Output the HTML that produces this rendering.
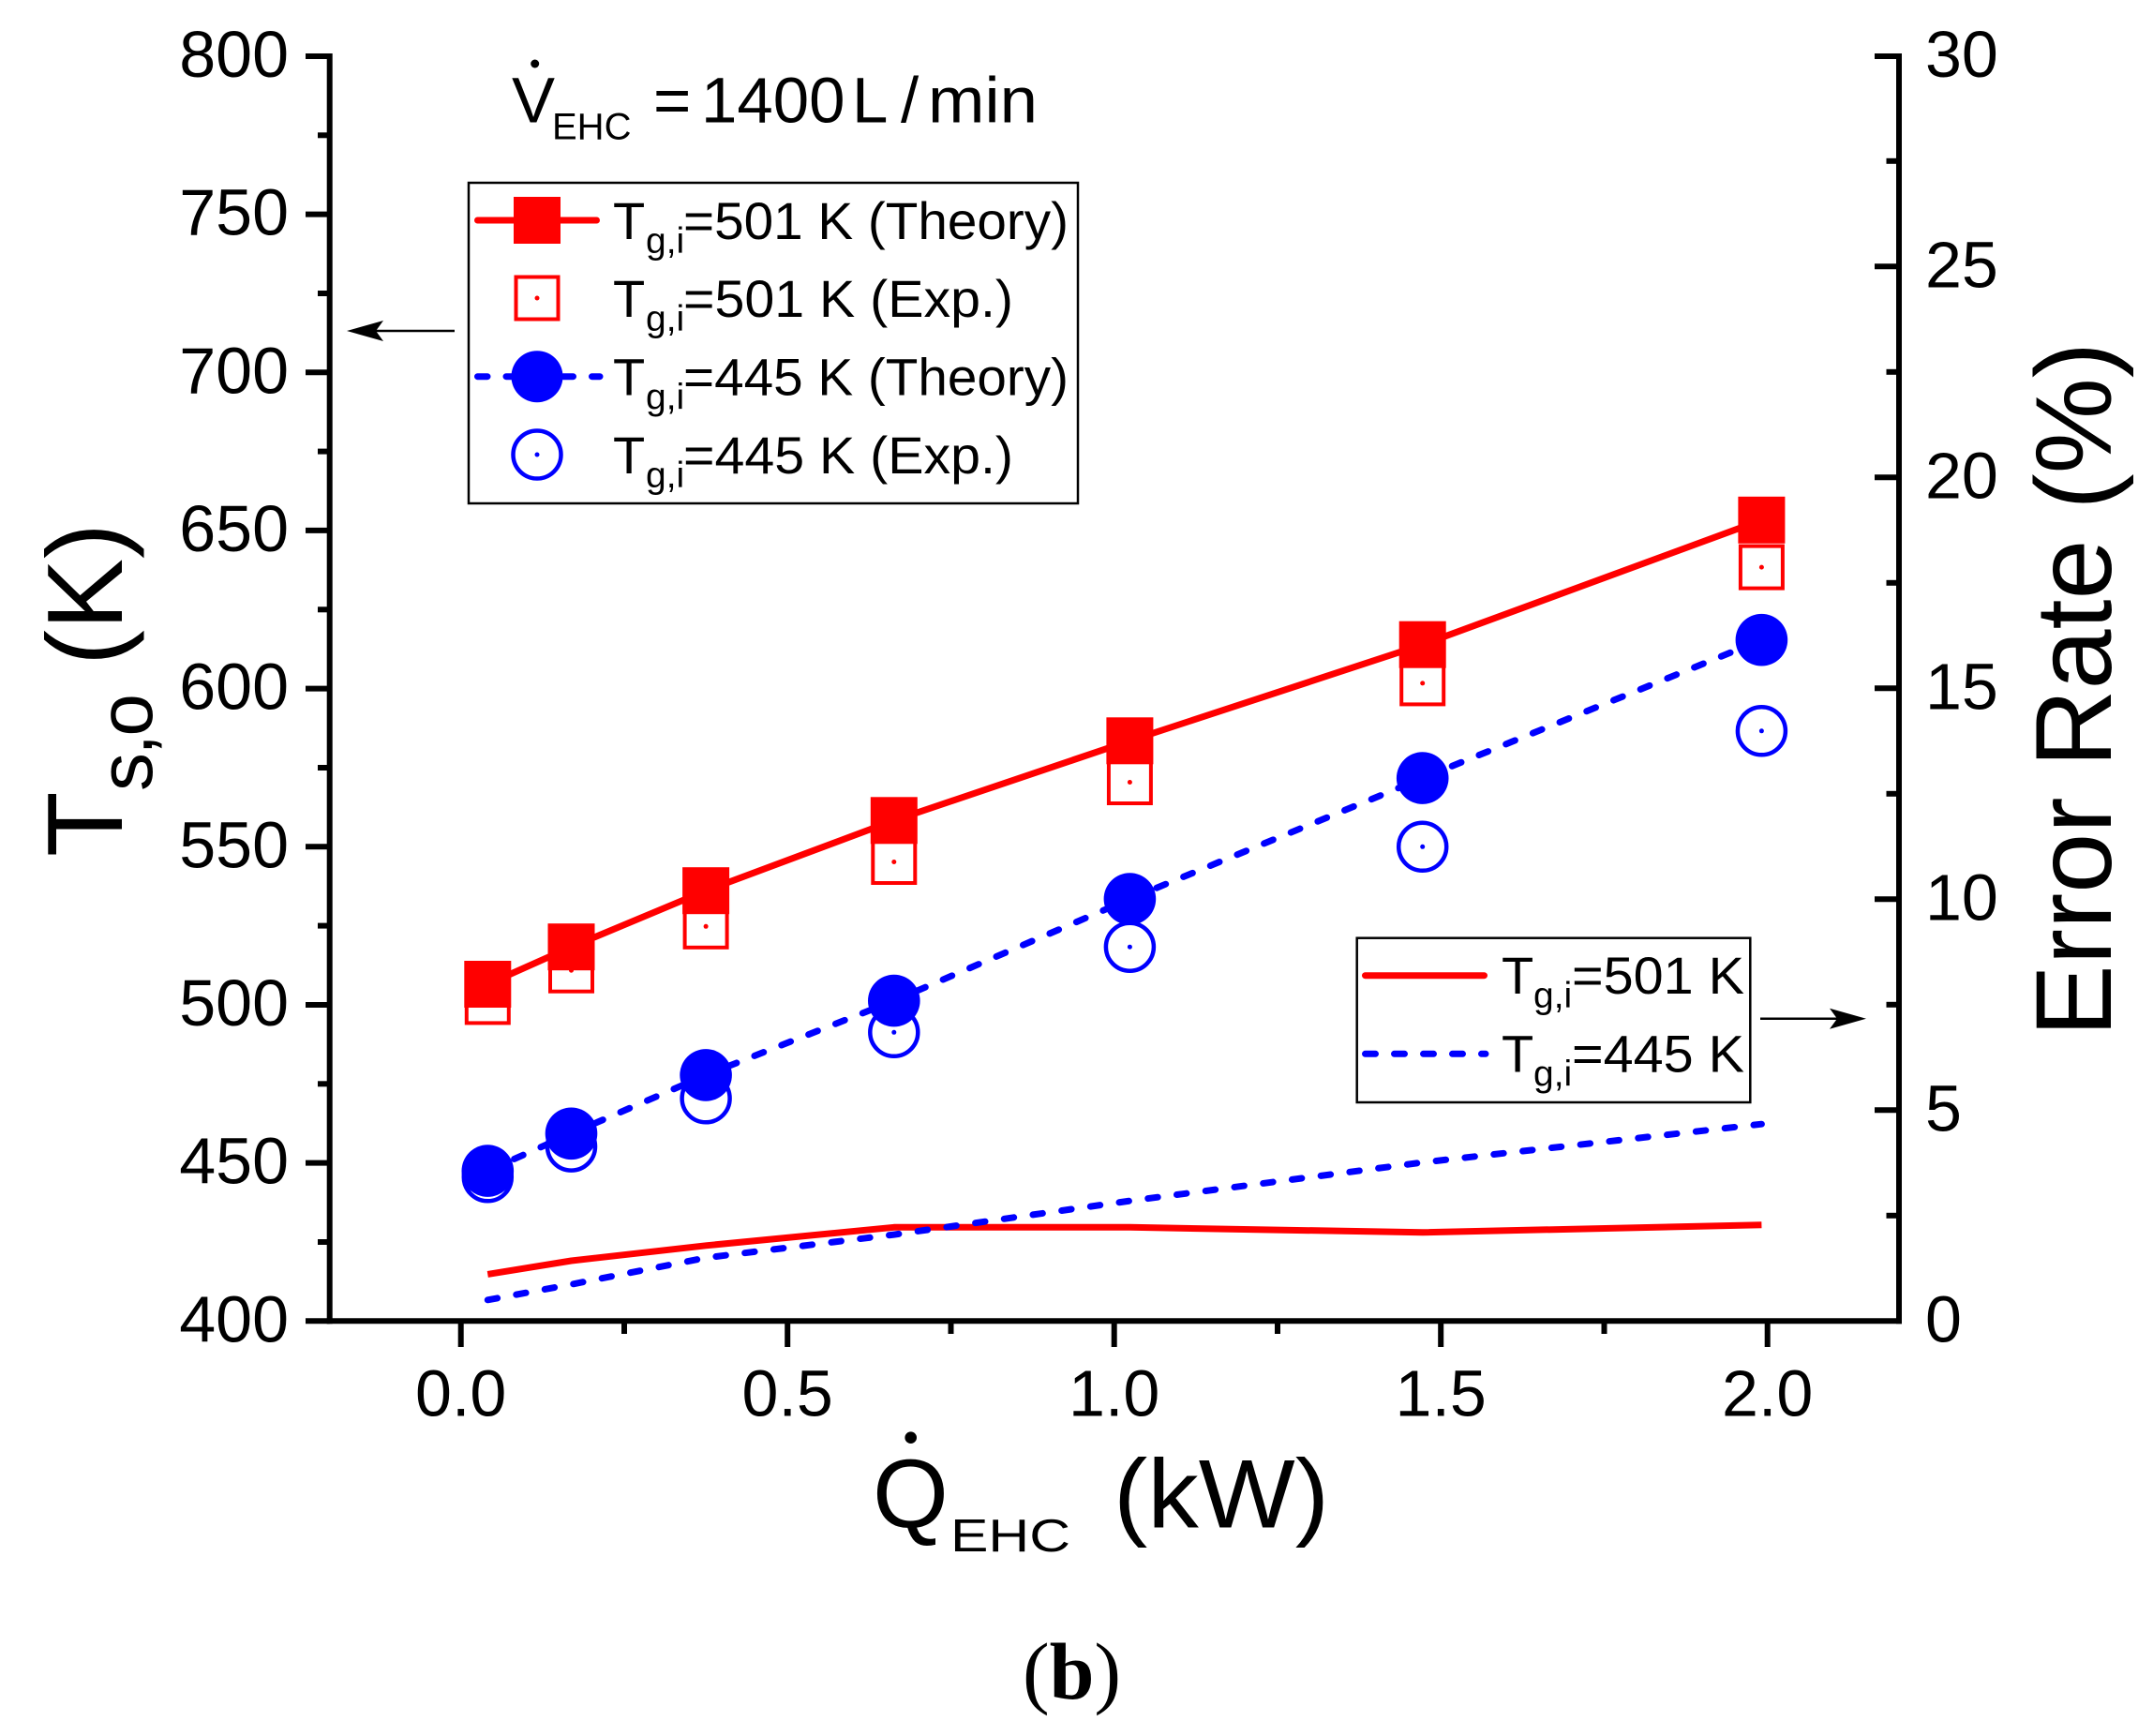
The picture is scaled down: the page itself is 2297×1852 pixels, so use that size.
<!DOCTYPE html>
<html>
<head>
<meta charset="utf-8">
<style>
html,body{margin:0;padding:0;background:#fff;}
svg{display:block;}
text{font-family:"Liberation Sans",Arial,sans-serif;fill:#000;}
</style>
</head>
<body>
<svg width="2297" height="1852" viewBox="0 0 2297 1852" xmlns="http://www.w3.org/2000/svg">
<rect x="0" y="0" width="2297" height="1852" fill="#fff"/>

<!-- Axes -->
<g stroke="#000" stroke-width="6" fill="none" stroke-linecap="butt">
  <line x1="351.7" y1="57" x2="351.7" y2="1412.3"/>
  <line x1="2026" y1="57" x2="2026" y2="1412.3"/>
  <line x1="348.7" y1="1409.3" x2="2029" y2="1409.3"/>
  <!-- left major ticks -->
  <line x1="326" y1="1409.3" x2="351.7" y2="1409.3"/>
  <line x1="326" y1="1240.6" x2="351.7" y2="1240.6"/>
  <line x1="326" y1="1072.0" x2="351.7" y2="1072.0"/>
  <line x1="326" y1="903.3" x2="351.7" y2="903.3"/>
  <line x1="326" y1="734.6" x2="351.7" y2="734.6"/>
  <line x1="326" y1="565.9" x2="351.7" y2="565.9"/>
  <line x1="326" y1="397.3" x2="351.7" y2="397.3"/>
  <line x1="326" y1="228.6" x2="351.7" y2="228.6"/>
  <line x1="326" y1="60.0" x2="351.7" y2="60.0"/>
  <!-- left minor ticks -->
  <line x1="339" y1="1325.0" x2="351.7" y2="1325.0"/>
  <line x1="339" y1="1156.3" x2="351.7" y2="1156.3"/>
  <line x1="339" y1="987.6" x2="351.7" y2="987.6"/>
  <line x1="339" y1="819.0" x2="351.7" y2="819.0"/>
  <line x1="339" y1="650.3" x2="351.7" y2="650.3"/>
  <line x1="339" y1="481.6" x2="351.7" y2="481.6"/>
  <line x1="339" y1="313.0" x2="351.7" y2="313.0"/>
  <line x1="339" y1="144.3" x2="351.7" y2="144.3"/>
  <!-- right major ticks (inward) -->
  <line x1="2000" y1="1184.3" x2="2026" y2="1184.3"/>
  <line x1="2000" y1="959.3" x2="2026" y2="959.3"/>
  <line x1="2000" y1="734.3" x2="2026" y2="734.3"/>
  <line x1="2000" y1="509.3" x2="2026" y2="509.3"/>
  <line x1="2000" y1="284.3" x2="2026" y2="284.3"/>
  <line x1="2000" y1="60" x2="2026" y2="60"/>
  <!-- right minor ticks -->
  <line x1="2012.5" y1="1296.8" x2="2026" y2="1296.8"/>
  <line x1="2012.5" y1="1071.8" x2="2026" y2="1071.8"/>
  <line x1="2012.5" y1="846.8" x2="2026" y2="846.8"/>
  <line x1="2012.5" y1="621.8" x2="2026" y2="621.8"/>
  <line x1="2012.5" y1="396.8" x2="2026" y2="396.8"/>
  <line x1="2012.5" y1="171.8" x2="2026" y2="171.8"/>
  <!-- bottom major ticks -->
  <line x1="491.7" y1="1409.3" x2="491.7" y2="1437"/>
  <line x1="840.2" y1="1409.3" x2="840.2" y2="1437"/>
  <line x1="1188.7" y1="1409.3" x2="1188.7" y2="1437"/>
  <line x1="1537.2" y1="1409.3" x2="1537.2" y2="1437"/>
  <line x1="1885.7" y1="1409.3" x2="1885.7" y2="1437"/>
  <!-- bottom minor ticks -->
  <line x1="666.0" y1="1409.3" x2="666.0" y2="1423"/>
  <line x1="1014.5" y1="1409.3" x2="1014.5" y2="1423"/>
  <line x1="1363.0" y1="1409.3" x2="1363.0" y2="1423"/>
  <line x1="1711.5" y1="1409.3" x2="1711.5" y2="1423"/>
</g>

<!-- Left tick labels -->
<g font-size="70" text-anchor="end">
  <text x="308" y="1431.3">400</text>
  <text x="308" y="1262.6">450</text>
  <text x="308" y="1094.0">500</text>
  <text x="308" y="925.3">550</text>
  <text x="308" y="756.6">600</text>
  <text x="308" y="587.9">650</text>
  <text x="308" y="419.3">700</text>
  <text x="308" y="250.6">750</text>
  <text x="308" y="82.0">800</text>
</g>
<!-- Right tick labels -->
<g font-size="70" text-anchor="start">
  <text x="2054" y="1431.3">0</text>
  <text x="2054" y="1206.3">5</text>
  <text x="2054" y="981.3">10</text>
  <text x="2054" y="756.3">15</text>
  <text x="2054" y="531.3">20</text>
  <text x="2054" y="306.3">25</text>
  <text x="2054" y="82">30</text>
</g>
<!-- Bottom tick labels -->
<g font-size="70" text-anchor="middle">
  <text x="491.7" y="1510.5">0.0</text>
  <text x="840.2" y="1510.5">0.5</text>
  <text x="1188.7" y="1510.5">1.0</text>
  <text x="1537.2" y="1510.5">1.5</text>
  <text x="1885.7" y="1510.5">2.0</text>
</g>

<!-- Left axis title -->
<g transform="translate(130,914) rotate(-90)">
  <text x="0" y="0" font-size="114">T</text>
  <text x="70" y="32" font-size="82" textLength="104" lengthAdjust="spacing">s,o</text>
  <text x="204" y="0" font-size="114">(K)</text>
</g>
<!-- Right axis title -->
<g transform="translate(2252,1106) rotate(-90)">
  <text x="0" y="0" font-size="115">Error Rate (%)</text>
</g>

<!-- X axis title -->
<text x="931" y="1629.5" font-size="104">Q</text>
<circle cx="971.7" cy="1533.7" r="6.3" fill="#000"/>
<text x="1014" y="1655" font-size="49" textLength="128" lengthAdjust="spacingAndGlyphs">EHC</text>
<text x="1188" y="1629.5" font-size="104" textLength="230" lengthAdjust="spacingAndGlyphs">(kW)</text>

<!-- (b) -->
<text x="1143.5" y="1812" font-size="86" text-anchor="middle" style='font-family:"Liberation Serif","Times New Roman",serif;'>(<tspan font-weight="bold">b</tspan>)</text>

<!-- Annotation -->
<text x="546" y="130.7" font-size="69">V</text>
<circle cx="570.7" cy="68" r="4.5" fill="#000"/>
<text x="589" y="148.3" font-size="40">EHC</text>
<text x="697" y="130.7" font-size="69">=</text>
<text x="748" y="130.7" font-size="69">1400</text>
<text x="909" y="130.7" font-size="69">L</text>
<text x="961" y="130.7" font-size="69">/</text>
<text x="990" y="130.7" font-size="69" textLength="117" lengthAdjust="spacingAndGlyphs">min</text>

<!-- Data lines -->
<polyline fill="none" stroke="#ff0000" stroke-width="7" stroke-linejoin="round"
  points="520.3,1050.0 609.5,1010.2 753.1,950.2 953.8,875.3 1205.4,790.3 1517.7,687.7 1879.4,554.8"/>
<polyline fill="none" stroke="#0000ff" stroke-width="7" stroke-linecap="round" stroke-dasharray="10.5 20.5"
  points="520.3,1249.1 609.5,1209.3 753.1,1146.9 953.8,1067.6 1205.4,959.0 1517.7,830.1 1879.4,682.7"/>
<polyline fill="none" stroke="#ff0000" stroke-width="7" stroke-linejoin="round"
  points="520.3,1359.4 609.5,1345.0 753.1,1328.8 953.8,1309.3 1205.4,1309.3 1517.7,1314.8 1879.4,1306.7"/>
<polyline fill="none" stroke="#0000ff" stroke-width="7" stroke-linecap="round" stroke-dasharray="10.5 20.5"
  points="520.3,1386.8 609.5,1370.2 753.1,1341.8 953.8,1317.1 1205.4,1281.1 1517.7,1240.1 1879.4,1199.2"/>

<!-- Exp open squares -->
<g fill="#fff" stroke="#ff0000" stroke-width="4">
  <rect x="497.8" y="1046.4" width="45" height="45"/>
  <rect x="587.0" y="1012.7" width="45" height="45"/>
  <rect x="730.6" y="965.8" width="45" height="45"/>
  <rect x="931.3" y="897.0" width="45" height="45"/>
  <rect x="1182.9" y="812.0" width="45" height="45"/>
  <rect x="1495.2" y="706.4" width="45" height="45"/>
  <rect x="1856.9" y="582.6" width="45" height="45"/>
</g>
<g fill="#ff0000">
  <circle cx="520.3" cy="1068.9" r="2.5"/>
  <circle cx="609.5" cy="1035.2" r="2.5"/>
  <circle cx="753.1" cy="988.3" r="2.5"/>
  <circle cx="953.8" cy="919.5" r="2.5"/>
  <circle cx="1205.4" cy="834.5" r="2.5"/>
  <circle cx="1517.7" cy="728.9" r="2.5"/>
  <circle cx="1879.4" cy="605.1" r="2.5"/>
</g>
<!-- Exp open circles -->
<g fill="#fff" stroke="#0000ff" stroke-width="4.5">
  <circle cx="520.3" cy="1255.8" r="25.5"/>
  <circle cx="609.5" cy="1223.1" r="25.5"/>
  <circle cx="753.1" cy="1171.8" r="25.5"/>
  <circle cx="953.8" cy="1101.3" r="25.5"/>
  <circle cx="1205.4" cy="1010.2" r="25.5"/>
  <circle cx="1517.7" cy="903.3" r="25.5"/>
  <circle cx="1879.4" cy="779.8" r="25.5"/>
</g>
<g fill="#0000ff">
  <circle cx="520.3" cy="1255.8" r="2.5"/>
  <circle cx="609.5" cy="1223.1" r="2.5"/>
  <circle cx="753.1" cy="1171.8" r="2.5"/>
  <circle cx="953.8" cy="1101.3" r="2.5"/>
  <circle cx="1205.4" cy="1010.2" r="2.5"/>
  <circle cx="1517.7" cy="903.3" r="2.5"/>
  <circle cx="1879.4" cy="779.8" r="2.5"/>
</g>
<!-- Theory filled squares -->
<g fill="#ff0000">
  <rect x="495.3" y="1025.0" width="50" height="50"/>
  <rect x="584.5" y="985.2" width="50" height="50"/>
  <rect x="728.1" y="925.2" width="50" height="50"/>
  <rect x="928.8" y="850.3" width="50" height="50"/>
  <rect x="1180.4" y="765.3" width="50" height="50"/>
  <rect x="1492.7" y="662.7" width="50" height="50"/>
  <rect x="1854.4" y="529.8" width="50" height="50"/>
</g>
<!-- Theory filled circles -->
<g fill="#0000ff">
  <circle cx="520.3" cy="1249.1" r="27.8"/>
  <circle cx="609.5" cy="1209.3" r="27.8"/>
  <circle cx="753.1" cy="1146.9" r="27.8"/>
  <circle cx="953.8" cy="1067.6" r="27.8"/>
  <circle cx="1205.4" cy="959.0" r="27.8"/>
  <circle cx="1517.7" cy="830.1" r="27.8"/>
  <circle cx="1879.4" cy="682.7" r="27.8"/>
</g>

<!-- Legend 1 -->
<rect x="500" y="195" width="650" height="342" fill="#fff" stroke="#000" stroke-width="2.5"/>
<line x1="509.5" y1="235" x2="636.5" y2="235" stroke="#ff0000" stroke-width="7" stroke-linecap="round"/>
<rect x="548" y="210" width="50" height="50" fill="#ff0000"/>
<rect x="550.5" y="295.5" width="45" height="45" fill="#fff" stroke="#ff0000" stroke-width="4"/>
<circle cx="573" cy="318" r="2.5" fill="#ff0000"/>
<line x1="509.5" y1="401.7" x2="640" y2="401.7" stroke="#0000ff" stroke-width="7" stroke-linecap="round" stroke-dasharray="10.5 20"/>
<circle cx="573" cy="401.7" r="27.5" fill="#0000ff"/>
<circle cx="573" cy="485" r="25.5" fill="#fff" stroke="#0000ff" stroke-width="4.5"/>
<circle cx="573" cy="485" r="2.5" fill="#0000ff"/>
<g font-size="56">
  <text x="654" y="255">T</text>
  <text x="689" y="270" font-size="39">g,i</text>
  <text x="729" y="255" textLength="411" lengthAdjust="spacingAndGlyphs">=501 K (Theory)</text>
  <text x="654" y="338">T</text>
  <text x="689" y="353" font-size="39">g,i</text>
  <text x="729" y="338" textLength="352" lengthAdjust="spacingAndGlyphs">=501 K (Exp.)</text>
  <text x="654" y="421.7">T</text>
  <text x="689" y="436.7" font-size="39">g,i</text>
  <text x="729" y="421.7" textLength="411" lengthAdjust="spacingAndGlyphs">=445 K (Theory)</text>
  <text x="654" y="505">T</text>
  <text x="689" y="520" font-size="39">g,i</text>
  <text x="729" y="505" textLength="352" lengthAdjust="spacingAndGlyphs">=445 K (Exp.)</text>
</g>

<!-- Legend 2 -->
<rect x="1447.7" y="1000.7" width="419.6" height="175.3" fill="#fff" stroke="#000" stroke-width="2.5"/>
<line x1="1456.5" y1="1040.7" x2="1583.5" y2="1040.7" stroke="#ff0000" stroke-width="7" stroke-linecap="round"/>
<line x1="1456.5" y1="1124.3" x2="1585" y2="1124.3" stroke="#0000ff" stroke-width="7" stroke-linecap="round" stroke-dasharray="11 20"/>
<g font-size="56">
  <text x="1602" y="1060">T</text>
  <text x="1636" y="1075" font-size="39">g,i</text>
  <text x="1677" y="1060" textLength="184" lengthAdjust="spacingAndGlyphs">=501 K</text>
  <text x="1602" y="1143.3">T</text>
  <text x="1636" y="1158.3" font-size="39">g,i</text>
  <text x="1677" y="1143.3" textLength="184" lengthAdjust="spacingAndGlyphs">=445 K</text>
</g>

<!-- Arrows -->
<line x1="400" y1="353" x2="485" y2="353" stroke="#000" stroke-width="2.5"/>
<polygon points="370,353 409,342 401,353 409,364" fill="#000"/>
<line x1="1878" y1="1086.7" x2="1962" y2="1086.7" stroke="#000" stroke-width="2.5"/>
<polygon points="1991,1086.7 1952,1075.7 1960,1086.7 1952,1097.7" fill="#000"/>
</svg>
</body>
</html>
